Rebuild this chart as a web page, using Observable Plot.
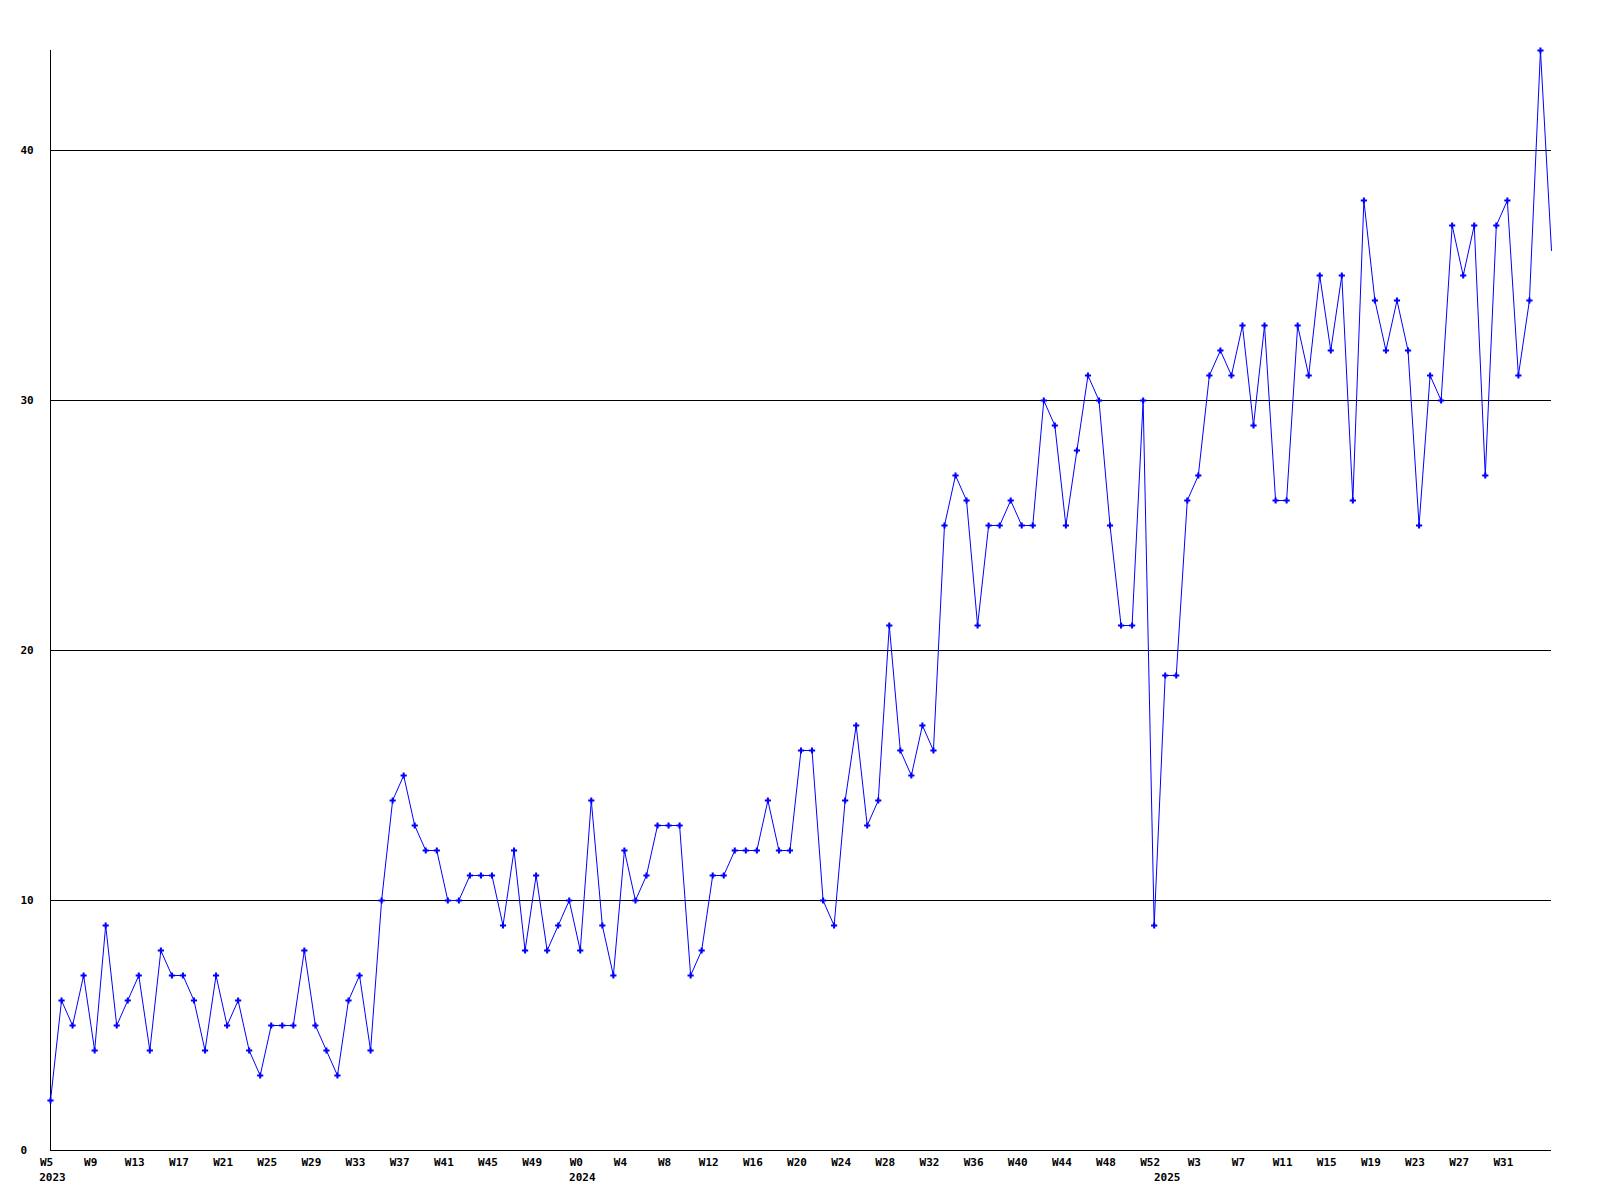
<!DOCTYPE html>
<html>
<head>
<meta charset="utf-8">
<script src="https://cdn.jsdelivr.net/npm/d3@7"></script>
<script src="https://cdn.jsdelivr.net/npm/@observablehq/plot@0.6"></script>
<style>
  html, body { margin: 0; padding: 0; background: #ffffff; }
  #chart svg { display: block; }
</style>
</head>
<body>
<div id="chart"></div>
<script>
// Weekly values: 2023 W5..W52, 2024 W0..W52, 2025 W0..W35
const values2023 = [2,6,5,7,4,9,5,6,7,4,8,7,7,6,4,7,5,6,4,3,5,5,5,8,5,4,3,6,7,4,10,14,15,13,12,12,10,10,11,11,11,9,12,8,11,8,9,10];
const values2024 = [8,14,9,7,12,10,11,13,13,13,7,8,11,11,12,12,12,14,12,12,16,16,10,9,14,17,13,14,21,16,15,17,16,25,27,26,21,25,25,26,25,25,30,29,25,28,31,30,25,21,21,30,9];
const values2025 = [19,19,26,27,31,32,31,33,29,33,26,26,33,31,35,32,35,26,38,34,32,34,32,25,31,30,37,35,37,27,37,38,31,34,44,36];

const weekTickLabels = ["W5","W9","W13","W17","W21","W25","W29","W33","W37","W41","W45","W49",
  "W0","W4","W8","W12","W16","W20","W24","W28","W32","W36","W40","W44","W48","W52",
  "W3","W7","W11","W15","W19","W23","W27","W31"];
const weekTickIndex = [0,4,8,12,16,20,24,28,32,36,40,44,
  48,52,56,60,64,68,72,76,80,84,88,92,96,100,
  104,108,112,116,120,124,128,132];
const yearLabels = ["2023","2024","2025"];
const yearIndex = [0,48,101];
const yTicks = [0,10,20,30,40];
const gridValues = [10,20,30,40];

const values = [...values2023, ...values2024, ...values2025];
const data = values.map((v, i) => ({i, v}));
const xTicks = weekTickLabels.map((t, k) => ({i: weekTickIndex[k], t}));
const years = yearLabels.map((t, k) => ({i: yearIndex[k], t}));

const chart = Plot.plot({
  width: 1600,
  height: 1200,
  marginLeft: 50,
  marginRight: 49,
  marginTop: 50,
  marginBottom: 50,
  x: {domain: [0, values.length - 1], axis: null},
  y: {domain: [0, 44], axis: null},
  style: {fontFamily: "'DejaVu Sans Mono', monospace", fontSize: "11px", fontWeight: "bold", background: "#ffffff", color: "black"},
  marks: [
    Plot.ruleY(gridValues, {stroke: "black", strokeWidth: 1, shapeRendering: "crispEdges"}),
    Plot.ruleY([0], {stroke: "black", strokeWidth: 1, shapeRendering: "crispEdges"}),
    Plot.ruleX([0], {y1: 0, y2: 44, stroke: "black", strokeWidth: 1, shapeRendering: "crispEdges"}),
    Plot.line(data, {x: "i", y: "v", stroke: "#0000ff", strokeWidth: 1}),
    Plot.dot(data.slice(0, -1), {x: "i", y: "v", symbol: "cross", r: 2.6, fill: "#0000ff", stroke: null}),
    Plot.text(yTicks, {x: () => 0, y: d => d, text: d => String(d), textAnchor: "start", dx: -30, fill: "black"}),
    Plot.text(xTicks, {x: "i", y: () => 0, text: "t", textAnchor: "middle", dx: -4, dy: 12, fill: "black"}),
    Plot.text(years, {x: "i", y: () => 0, text: "t", textAnchor: "middle", dx: 2, dy: 26.5, fill: "black"})
  ]
});
document.getElementById("chart").appendChild(chart);
</script>
</body>
</html>
